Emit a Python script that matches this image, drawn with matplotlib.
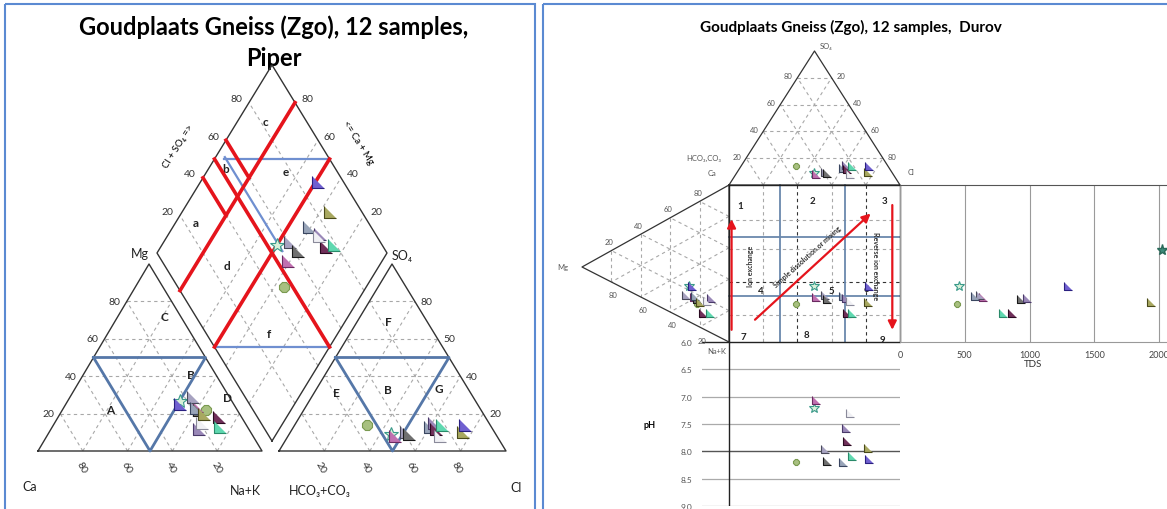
import numpy as np
import matplotlib.pyplot as plt

plt.rcParams['font.family'] = ['Lato', 'DejaVu Sans']

W, H = 1167, 510

# ---------- samples (% of meq/l) ----------
ca   = [23, 14, 17, 16, 17, 18, 22, 10, 19, 12, 16, 24]
mg   = [27, 22, 24, 29, 22, 23, 12, 18, 15, 13, 20, 25]
nak  = [50, 64, 59, 55, 61, 59, 66, 72, 66, 75, 64, 51]
hco3 = [46, 54, 45, 39, 38, 27, 24, 25, 25, 21, 14, 11]
so4  = [9, 14, 8, 10, 9, 13, 15, 12, 8, 14, 10, 14]
cl   = [45, 32, 47, 51, 53, 60, 61, 63, 67, 65, 76, 75]
tds  = [454, 438, 638, 615, 938, 577, 977, 862, np.nan, 792, 1938, 1300]
ph   = [7.20, 8.20, 7.06, 7.95, 8.17, 8.20, 7.57, 7.82, 7.29, 8.08, 7.94, 8.14]
# one extra TDS-only point (star at the right edge)
extra_tds = [2025]
extra_mg = [10]
extra_nak = [36]
extra_ca = [54]

# ---------- marker styles ----------
TRI = [(-1, 1), (-1, -1), (1, -1)]
shapes = ['*', '8'] + [TRI] * 10
fills = ['#d8f0d8', '#a8c080', '#c070b0', '#a7a2c0', '#707070', '#98a4b8',
         '#9a88b8', '#70305a', '#f0f0f4', '#60d8b0', '#a8a860', '#7060d0']
edges = ['#3a9a8a', '#7a9a50', '#6a2a60', '#4a4a5a', '#1a1a1a', '#3a4660',
         '#4a3a6a', '#2a0a20', '#8a8a9a', '#2a8a6a', '#4a4a1a', '#2a2080']

GRID = dict(color='#a8a8a8', lw=0.8, ls=(0, (3, 3)))
RED = '#e5141c'
BLUE = '#5577a8'

# ---------- frame geometry (pixels) ----------
CAT = np.array([[38, 452], [262, 452], [149, 265]])     # Ca, Na+K, Mg
ANI = np.array([[279, 452], [506, 452], [392, 265]])    # HCO3, Cl, SO4
DB, DL, DR = np.array([272, 442]), np.array([157, 254]), np.array([387, 254])
TOP = np.array([[729, 186], [900, 186], [814.5, 52]])   # HCO3, Cl, SO4
LEFT = np.array([[729, 186], [729, 343], [582, 268]])   # Ca, Na+K, Mg
SQ = (729, 186, 900, 343)


def tern(corners, p0, p1, p2):
    p = np.vstack([np.atleast_1d(p0), np.atleast_1d(p1), np.atleast_1d(p2)]).astype(float) / 100
    xy = p.T @ corners
    return xy[:, 0], xy[:, 1]


def dia(camg, clso4):
    a = np.atleast_1d(camg) / 100
    c = np.atleast_1d(clso4) / 100
    xy = DB + np.outer(a, DL - DB) + np.outer(c, DR - DB)
    return xy[:, 0], xy[:, 1]


def tri_frame(ax, corners, lw=1.0):
    pts = np.vstack([corners, corners[:1]])
    ax.plot(pts[:, 0], pts[:, 1], color='#333333', lw=lw, zorder=3)
    for k in (20, 40, 60, 80):
        for p, q in (((k, 100 - k, 0), (k, 0, 100 - k)),
                     ((100 - k, k, 0), (0, k, 100 - k)),
                     ((100 - k, 0, k), (0, 100 - k, k))):
            x, y = tern(corners, *np.array([p, q]).T)
            ax.plot(x, y, **GRID, zorder=1)


def samples(a, x, y, ms):
    for i in range(len(x)):
        if np.isnan(x[i]) or np.isnan(y[i]):
            continue
        s = ms * (1.25 if shapes[i] == '*' else 0.9 if shapes[i] == '8' else 1)
        a.plot(x[i], y[i], marker=shapes[i], ms=s, mfc=fills[i], mec=edges[i],
               mew=0.8, ls='none', zorder=6)


def box(x0, y0, x1, y1):
    return [x0 / W, 1 - y1 / H, (x1 - x0) / W, (y1 - y0) / H]


fig = plt.figure(figsize=(W / 100, H / 100), dpi=100)
ax = fig.add_axes([0, 0, 1, 1])
ax.set_xlim(0, W)
ax.set_ylim(H, 0)
ax.axis('off')

# panel borders
ax.add_patch(plt.Rectangle((5, 5), 530, 520, fill=False, ec='#5b8ad2', lw=1.5))
ax.add_patch(plt.Rectangle((543, 5), 640, 520, fill=False, ec='#5b8ad2', lw=1.5))

# ================= PIPER =================
ax.text(274, 27, 'Goudplaats Gneiss (Zgo), 12 samples,', ha='center', va='center',
        fontsize=17, fontweight='bold')
ax.text(274, 58, 'Piper', ha='center', va='center', fontsize=17, fontweight='bold')

tri_frame(ax, CAT)
tri_frame(ax, ANI)
dpts = np.array([DB, DL, DB + (DL - DB) + (DR - DB), DR, DB])
ax.plot(dpts[:, 0], dpts[:, 1], color='#333333', lw=1.0, zorder=3)
for k in (20, 40, 60, 80):
    x, y = dia([k, k], [0, 100])
    ax.plot(x, y, **GRID, zorder=1)
    x, y = dia([0, 100], [k, k])
    ax.plot(x, y, **GRID, zorder=1)

# classification lines
for p in (((50, 0, 50), (0, 50, 50), (50, 50, 0), (50, 0, 50)),):
    x, y = tern(CAT, *np.array(p).T)
    ax.plot(x, y, color=BLUE, lw=2, zorder=4)
    x, y = tern(ANI, *np.array(p).T)
    ax.plot(x, y, color=BLUE, lw=2, zorder=4)
for a0, c0, a1, c1 in ((96, 54, 50, 100), (96, 55, 46, 55), (50, 0, 0, 50)):
    x, y = dia([a0, a1], [c0, c1])
    ax.plot(x, y, color='#6f8fd0', lw=1.6, zorder=4)
for a0, c0, a1, c1 in ((80, 0, 80, 100), (100, 60, 80, 60), (100, 40, 80, 40),
                       (50, 0, 50, 100), (100, 50, 0, 50)):
    x, y = dia([a0, a1], [c0, c1])
    ax.plot(x, y, color=RED, lw=2.6, zorder=5)

# tick labels
tk = dict(fontsize=7.5, color='#333333', va='center')
for k in (20, 40, 60, 80):
    x, y = tern(CAT, 100 - k, 0, k)
    ax.text(x[0] - 6, y[0], str(k), ha='right', **tk)
    x, y = tern(CAT, k, 100 - k, 0)
    ax.text(x[0] - 1, y[0] + 16, str(k), ha='center', rotation=-60, **tk)
    x, y = tern(ANI, 0, 100 - k, k)
    ax.text(x[0] + 6, y[0], '50' if k == 60 else str(k), ha='left', **tk)
    x, y = tern(ANI, 100 - k, k, 0)
    ax.text(x[0] - 4, y[0] + 16, str(k), ha='center', rotation=-60, **tk)
    x, y = dia(100, k)
    ax.text(x[0] - 7, y[0] - 4, str(k), ha='right', **tk)
    x, y = dia(k, 100)
    ax.text(x[0] + 6, y[0] - 4, str(k), ha='left', **tk)

lab = dict(fontsize=9, color='#222222', ha='center', va='center')
ax.text(140, 254, 'Mg', **lab)
ax.text(402, 256, 'SO₄', **lab)
ax.text(30, 487, 'Ca', **lab)
ax.text(245, 491, 'Na+K', **lab)
ax.text(320, 491, 'HCO₃+CO₃', **lab)
ax.text(516, 488, 'Cl', **lab)
ax.text(178, 147, 'Cl + SO₄ =>', fontsize=7, rotation=58, ha='center', va='center')
ax.text(358, 143, '<= Ca + Mg', fontsize=7, rotation=-58, ha='center', va='center')

let = dict(fontsize=8.5, fontweight='bold', ha='center', va='center', color='#222222')
for t, x, y in (('c', 265, 122), ('b', 226, 170), ('e', 286, 173), ('a', 196, 224),
                ('d', 227, 267), ('f', 269, 335), ('C', 164, 318), ('B', 191, 376),
                ('A', 110, 411), ('D', 227, 399), ('F', 388, 323), ('E', 336, 394),
                ('B', 388, 391), ('G', 439, 390)):
    ax.text(x, y, t, **let)

# samples in the Piper
x, y = tern(CAT, ca, nak, mg)
samples(ax, x, y, 8)
x, y = tern(ANI, hco3, cl, so4)
samples(ax, x, y, 8)
x, y = dia(np.add(ca, mg), np.add(cl, so4))
samples(ax, x, y, 8)

# ================= DUROV =================
ax.text(851, 27, 'Goudplaats Gneiss (Zgo), 12 samples,  Durov', ha='center', va='center',
        fontsize=11, fontweight='bold')
tri_frame(ax, TOP, lw=0.9)
tri_frame(ax, LEFT, lw=0.9)
x0, y0, x1, y1 = SQ
ax.plot([x0, x1, x1, x0, x0], [y0, y0, y1, y1, y0], color='#222222', lw=1.0, zorder=3)
ax.plot([702, x0], [y1, y1], color='#222222', lw=1.0, zorder=3)

fx = lambda f: x0 + f * (x1 - x0)
fy = lambda f: y0 + f * (y1 - y0)
for f, dark in ((0.2, False), (0.4, True), (0.6, False), (0.8, True)):
    ax.plot([fx(f), fx(f)], [y0, y1], color='#333333' if dark else '#a8a8a8',
            lw=0.8, ls=(0, (3, 3)), zorder=1)
for f, dark in ((0.22, False), (0.41, False), (0.62, True), (0.83, False)):
    ax.plot([x0, x1], [fy(f), fy(f)], color='#333333' if dark else '#a8a8a8',
            lw=0.8, ls=(0, (3, 3)), zorder=1)
for f in (0.30, 0.68):
    ax.plot([fx(f), fx(f)], [y0, y1], color='#6a88ad', lw=1.3, zorder=2)
for f in (0.33, 0.71):
    ax.plot([x0, x1], [fy(f), fy(f)], color='#6a88ad', lw=1.3, zorder=2)

arr = dict(arrowstyle='-|>,head_length=0.5,head_width=0.25', color=RED, lw=1.6)
ax.annotate('', xy=(fx(0.015), fy(0.2)), xytext=(fx(0.015), fy(0.94)), arrowprops=arr, zorder=5)
ax.annotate('', xy=(fx(0.84), fy(0.17)), xytext=(fx(0.14), fy(0.87)), arrowprops=arr, zorder=5)
ax.annotate('', xy=(fx(0.955), fy(0.94)), xytext=(fx(0.955), fy(0.11)), arrowprops=arr, zorder=5)
sm = dict(fontsize=5, fontweight='bold', ha='center', va='center', color='#333333')
ax.text(750, 266, 'Ion exchange', rotation=90, **sm)
ax.text(807, 257, 'Simple dissolution or mixing', rotation=42, **sm)
ax.text(875, 266, 'Reverse ion exchange', rotation=-90, **sm)
num = dict(fontsize=7, fontweight='bold', ha='center', va='center', color='#222222')
for t, x, y in (('1', 740, 207), ('2', 812, 202), ('3', 885, 202), ('4', 761, 292),
                ('5', 831, 292), ('6', 866, 290), ('7', 743, 338), ('8', 806, 336),
                ('9', 882, 341)):
    ax.text(x, y, t, **num)

dt = dict(fontsize=5.5, color='#555555', va='center', ha='center')
for k in (20, 40, 60, 80):
    x, y = tern(TOP, 100 - k, 0, k)
    ax.text(x[0] - 9, y[0] - 2, str(k), **dt)
    x, y = tern(TOP, 0, 100 - k, k)
    ax.text(x[0] + 9, y[0] - 2, str(100 - k), **dt)
    x, y = tern(LEFT, k, 0, 100 - k)
    ax.text(x[0] - 2, y[0] - 9, str(k), **dt)
    x, y = tern(LEFT, 0, 100 - k, k)
    ax.text(x[0] + 2, y[0] + 13, str(k), **dt)
ax.text(826, 46, 'SO₄', **dt)
ax.text(704, 158, 'HCO₃,CO₃', **dt)
ax.text(712, 174, 'Ca', **dt)
ax.text(911, 173, 'Cl', **dt)
ax.text(563, 268, 'Mg', **dt)
ax.text(717, 352, 'Na+K', **dt)

tx, _ = tern(TOP, hco3, cl, so4)
_, ly = tern(LEFT, ca, nak, mg)
x, y = tern(TOP, hco3, cl, so4)
samples(ax, x, y, 6)
x, y = tern(LEFT, ca, nak, mg)
samples(ax, x, y, 6)
samples(ax, tx, ly, 6)

# TDS panel
tax = fig.add_axes(box(900, 186, 1167, 343))
tax.patch.set_alpha(0)
tax.set_xlim(0, 2000 * 267 / 259)
tax.set_ylim(343, 186)
for s in ('left', 'right'):
    tax.spines[s].set_visible(False)
tax.spines['top'].set_color('#555555')
tax.spines['bottom'].set_color('#999999')
tax.set_xticks([0, 500, 1000, 1500, 2000])
tax.set_yticks([])
tax.tick_params(length=0, labelsize=6.5, labelcolor='#444444', pad=6)
tax.grid(axis='x', color='#9a9a9a', lw=0.8)
tax.set_xlabel('TDS', fontsize=7, labelpad=0, color='#333333')
samples(tax, tds, ly, 6)
_, ey = tern(LEFT, extra_ca, extra_nak, extra_mg)
tax.plot(extra_tds, ey, marker='*', ms=8, mfc='#3f8a7a', mec='#2a6a5a', ls='none',
         clip_on=False, zorder=6)

# pH panel
pax = fig.add_axes(box(702, 343, 900, 507))
pax.patch.set_alpha(0)
pax.set_xlim(702, 900)
pax.set_ylim(9.0, 6.0)
for s in pax.spines.values():
    s.set_visible(False)
yt = [6.0, 6.5, 7.0, 7.5, 8.0, 8.5, 9.0]
pax.set_yticks(yt)
pax.set_yticklabels([f'{v:.1f}' for v in yt])
pax.set_xticks([])
pax.tick_params(length=0, labelsize=6, labelcolor='#555555', pad=7)
for v in yt[1:]:
    pax.axhline(v, color='#555555' if v == 8.0 else '#aaaaaa', lw=1.0 if v == 8.0 else 0.9)
pax.axvline(729, color='#222222', lw=1.0)
pax.set_ylabel('pH', rotation=0, fontsize=6.5, fontweight='bold', labelpad=22, va='center')
samples(pax, tx, ph, 6)

fig.savefig('out.png', dpi=100)
